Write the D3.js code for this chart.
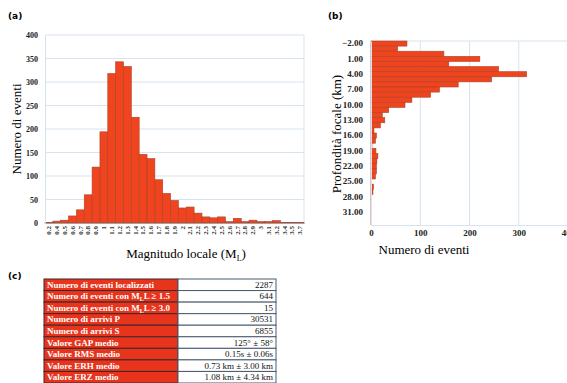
<!DOCTYPE html>
<html>
<head>
<meta charset="utf-8">
<script src="https://cdn.jsdelivr.net/npm/d3@7"></script>
<style>
  body { margin: 0; background: #fff; }
</style>
</head>
<body>
<svg id="chart" width="567" height="383"></svg>
<script>
// (a) magnitude histogram
const magBins = ["0.2","0.4","0.5","0.6","0.7","0.8","0.9","1","1.1","1.2","1.3","1.4","1.5","1.6","1.7","1.8","1.9","2","2.1","2.2","2.3","2.4","2.5","2.6","2.7","2.8","2.9","3","3.1","3.2","3.4","3.5","3.7"];
const magCounts = [1,4,6,15,28,60,119,194,318,343,333,225,146,137,92,63,48,32,34,21,13,11,13,3,10,3,6,3,3,5,1,1,1];
const magTicks = [0,50,100,150,200,250,300,350,400];

// (b) depth histogram
const depthBins = [-2,-1,0,1,2,3,4,5,6,7,8,9,10,11,12,13,14,15,16,17,18,19,20,21,22,23,24,25,26,27,28,29,30,31,32,33];
const depthCounts = [73,54,148,221,158,259,316,245,177,139,121,83,69,36,23,28,19,6,11,9,2,10,14,12,11,11,9,1,5,4,1,1,1,1,1,0.5];
const depthTicks = [0,100,200,300,400];

// (c) summary table
const tableLabels = ["Numero di eventi localizzati","Numero di eventi con M|L ≥ 1.5","Numero di eventi con M|L ≥ 3.0","Numero di arrivi P","Numero di arrivi S","Valore GAP medio","Valore RMS medio","Valore ERH medio","Valore ERZ medio"];
const tableValues = ["2287","644","15","30531","6855","125° ± 58°","0.15s ± 0.06s","0.73 km ± 3.00 km","1.08 km ± 4.34 km"];

const BAR = "#f0441e", BAR_EDGE = "#a8442c", GRID = "#d7e4ef", RED = "#e8341c";
const SERIF = "'Liberation Serif', 'Times New Roman', serif";

const svg = d3.select("#chart");

// panel letters
[["(a)", 8, 19], ["(b)", 328, 19], ["(c)", 8, 279]].forEach(([t, x, y]) => {
  svg.append("text").attr("x", x).attr("y", y)
    .style("font-family", "'DejaVu Sans', sans-serif").style("font-size", "9px").style("font-weight", "bold")
    .text(t);
});

function tickStyle(sel, size) {
  sel.selectAll("text").style("font-size", size).style("font-weight", "bold")
    .style("font-family", SERIF).attr("fill", "#222");
}

// ---------- panel (a)
const gA = svg.append("g");
const xA = d3.scaleBand().domain(magBins).range([45, 304]).padding(0);
const yA = d3.scaleLinear().domain([0, 400]).range([223, 35]);

gA.append("g").selectAll("line").data(magTicks.slice(1)).join("line")
  .attr("x1", 45).attr("x2", 304).attr("y1", d => yA(d)).attr("y2", d => yA(d))
  .attr("stroke", GRID).attr("stroke-width", 1);
gA.append("line").attr("x1", 304).attr("x2", 304).attr("y1", 35).attr("y2", 223).attr("stroke", GRID);

gA.selectAll("rect").data(magBins).join("rect")
  .attr("x", d => xA(d)).attr("width", xA.bandwidth())
  .attr("y", (d, i) => yA(magCounts[i])).attr("height", (d, i) => yA(0) - yA(magCounts[i]))
  .attr("fill", BAR).attr("stroke", BAR_EDGE).attr("stroke-width", 0.6);

const axA = gA.append("g").attr("transform", "translate(45,0)")
  .call(d3.axisLeft(yA).tickValues(magTicks).tickSize(0).tickPadding(7));
axA.select(".domain").attr("stroke", GRID);
tickStyle(axA, "8px");

const axAx = gA.append("g").attr("transform", "translate(0,223)")
  .call(d3.axisBottom(xA).tickSize(0).tickPadding(3));
axAx.select(".domain").attr("stroke", "#9aa4ad");
tickStyle(axAx, "7px");
axAx.selectAll("text")
  .attr("transform", "rotate(-90)").attr("text-anchor", "end")
  .attr("x", -3).attr("y", 0).attr("dy", "0.32em").attr("fill", "#333");

gA.append("text").attr("transform", "translate(21,129) rotate(-90)").attr("text-anchor", "middle")
  .style("font-family", SERIF).style("font-size", "13px").text("Numero di eventi");
const xt = gA.append("text").attr("x", 186).attr("y", 258).attr("text-anchor", "middle")
  .style("font-family", SERIF).style("font-size", "13px");
xt.append("tspan").text("Magnitudo locale (M");
xt.append("tspan").attr("dy", 3).style("font-size", "8px").text("L");
xt.append("tspan").attr("dy", -3).text(")");

// ---------- panel (b)
const gB = svg.append("g");
const xB = d3.scaleLinear().domain([0, 400]).range([371, 568]);
const yB = d3.scaleBand().domain(depthBins).range([41, 225]).padding(0);

gB.selectAll("line.grid").data(depthTicks.slice(1)).join("line").attr("class", "grid")
  .attr("x1", d => xB(d)).attr("x2", d => xB(d)).attr("y1", 41).attr("y2", 225)
  .attr("stroke", GRID);
gB.append("line").attr("x1", 371).attr("x2", 567).attr("y1", 41).attr("y2", 41).attr("stroke", GRID);

gB.selectAll("rect").data(depthBins).join("rect")
  .attr("x", xB(0)).attr("y", d => yB(d)).attr("height", yB.bandwidth())
  .attr("width", (d, i) => xB(depthCounts[i]) - xB(0))
  .attr("fill", BAR).attr("stroke", BAR_EDGE).attr("stroke-width", 0.6);

const axBy = gB.append("g").attr("transform", "translate(371,0)")
  .call(d3.axisLeft(yB).tickValues(depthBins.filter((d, i) => i % 3 === 0))
    .tickFormat(d3.format(".2f")).tickSize(0).tickPadding(8));
axBy.select(".domain").attr("stroke", GRID);
tickStyle(axBy, "9px");

const axBx = gB.append("g").attr("transform", "translate(0,225)")
  .call(d3.axisBottom(xB).tickValues(depthTicks).tickSize(0).tickPadding(5));
axBx.select(".domain").attr("stroke", GRID);
tickStyle(axBx, "9px");

gB.append("text").attr("transform", "translate(341,134) rotate(-90)").attr("text-anchor", "middle")
  .style("font-family", SERIF).style("font-size", "13px").text("Profondità focale (km)");
gB.append("text").attr("x", 424).attr("y", 254).attr("text-anchor", "middle")
  .style("font-family", SERIF).style("font-size", "13px").text("Numero di eventi");

// ---------- panel (c)
const gC = svg.append("g");
const rowY = d3.scaleBand().domain(d3.range(tableLabels.length)).range([279, 383]);
const colX = 178, tLeft = 44, tRight = 276;

gC.selectAll("rect.lab").data(tableLabels).join("rect").attr("class", "lab")
  .attr("x", tLeft).attr("y", (d, i) => rowY(i)).attr("width", colX - tLeft).attr("height", rowY.bandwidth())
  .attr("fill", RED).attr("stroke", "#3a2a2a").attr("stroke-width", 1);
gC.selectAll("rect.val").data(tableValues).join("rect").attr("class", "val")
  .attr("x", colX).attr("y", (d, i) => rowY(i)).attr("width", tRight - colX).attr("height", rowY.bandwidth())
  .attr("fill", "#fff").attr("stroke", "#4a5a6e").attr("stroke-width", 1);

gC.selectAll("text.lab").data(tableLabels).join("text").attr("class", "lab")
  .attr("x", tLeft + 3).attr("y", (d, i) => rowY(i) + rowY.bandwidth() / 2).attr("dy", "0.33em")
  .attr("fill", "#fff").style("font-family", SERIF).style("font-size", "9px").style("font-weight", "bold")
  .each(function(d) {
    const t = d3.select(this);
    if (d.includes("|")) {
      const [a, b] = d.split("|");
      t.append("tspan").text(a);
      t.append("tspan").attr("dy", 2).style("font-size", "6px").text("L");
      t.append("tspan").attr("dy", -2).text(b);
    } else t.text(d);
  });
gC.selectAll("text.val").data(tableValues).join("text").attr("class", "val")
  .attr("x", tRight - 3).attr("y", (d, i) => rowY(i) + rowY.bandwidth() / 2).attr("dy", "0.33em")
  .attr("text-anchor", "end").attr("fill", "#111").style("font-family", SERIF).style("font-size", "9px")
  .text(d => d);
</script>
</body>
</html>
